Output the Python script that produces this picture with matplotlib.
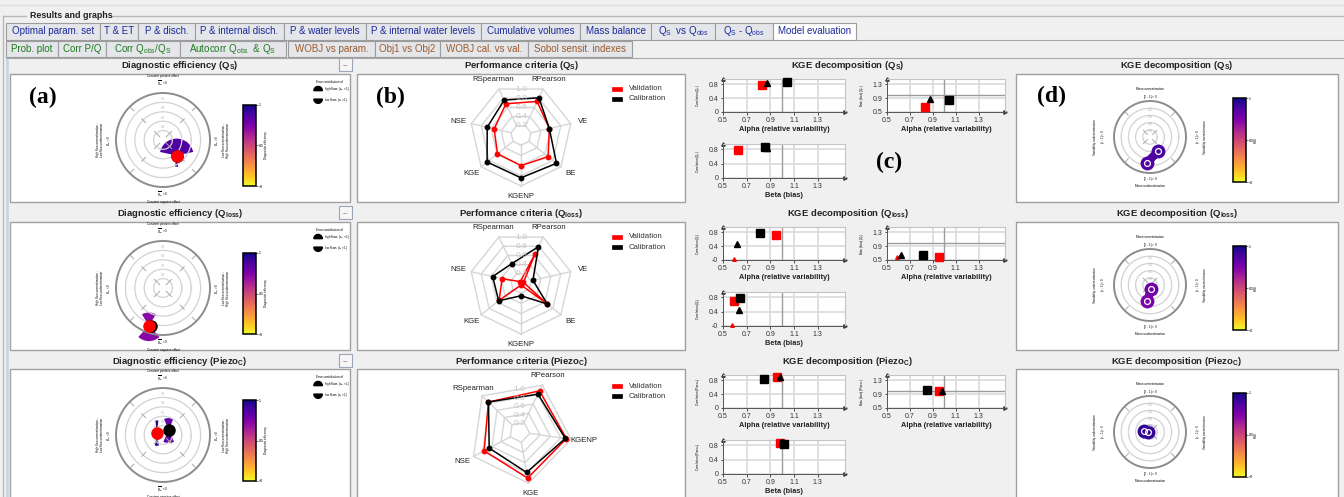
import numpy as np
import matplotlib
matplotlib.use('Agg')
import matplotlib.pyplot as plt
from matplotlib.patches import Rectangle, Wedge
from matplotlib.lines import Line2D
from matplotlib.colors import Normalize
from matplotlib import cm

# ------------------------------------------------------------------ data
TABS_ROW1 = ['Optimal param. set', 'T & ET', 'P & disch.', 'P & internal disch.',
             'P & water levels', 'P & internal water levels', 'Cumulative volumes',
             'Mass balance', r'Q$_\mathrm{S}$  vs Q$_\mathrm{obs}$',
             r'Q$_\mathrm{S}$ - Q$_\mathrm{obs}$', 'Model evaluation']
TABS_ROW2 = ['Prob. plot', 'Corr P/Q', r'Corr Q$_\mathrm{obs}$/Q$_\mathrm{S}$',
             r'Autocorr Q$_\mathrm{obs}$  & Q$_\mathrm{S}$',
             'WOBJ vs param.', 'Obj1 vs Obj2', 'WOBJ cal. vs val.', 'Sobol sensit. indexes']
VARIABLES = [r'Q$_{\mathbf{S}}$', r'Q$_{\mathbf{loss}}$', r'Piezo$_{\mathbf{C}}$']
VAR_SHORT = [r'Q$_\mathrm{S}$', r'Q$_\mathrm{l}$', r'Piezo$_\mathrm{C}$']

# radar (performance criteria); labels listed counter-clockwise
RADAR7_LABELS = ['KGENP', 'BE', 'VE', 'RPearson', 'RSpearman', 'NSE', 'KGE']
RADAR5_LABELS = ['RPearson', 'RSpearman', 'NSE', 'KGE', 'KGENP']
RADAR_VAL = [
    [0.60, 0.68, 0.57, 0.73, 0.68, 0.54, 0.59],
    [0.04, 0.65, 0.05, 0.64, 0.03, 0.38, 0.55],
    [0.88, 0.83, 0.77, 0.90, 0.91],
]
RADAR_CAL = [
    [0.84, 0.89, 0.57, 0.81, 0.76, 0.68, 0.85],
    [0.25, 0.66, 0.24, 0.79, 0.42, 0.57, 0.56],
    [0.81, 0.83, 0.66, 0.79, 0.89],
]
RADAR_GRID = [0.2, 0.4, 0.6, 0.8, 1.0]

# KGE decomposition components
KGE_VAL_ALPHA = [0.83, 0.95, 0.955]
KGE_VAL_BETA = [0.63, 0.59, 0.98]
KGE_VAL_R = [0.79, 0.71, 0.88]
KGE_CAL_ALPHA = [1.04, 0.81, 0.85]
KGE_CAL_BETA = [0.855, 0.645, 1.015]
KGE_CAL_R = [0.87, 0.78, 0.84]
KGE_TRI_ALPHA = [0.875, 0.62, 0.98]
KGE_TRI_BETA = [0.87, 0.635, 1.00]
KGE_TRI_R = [0.835, 0.45, 0.89]
KGE_TRIV_ALPHA = [np.nan, 0.59, np.nan]
KGE_TRIV_BETA = [np.nan, 0.575, np.nan]
KGE_TRIV_R = [np.nan, 0.02, np.nan]
KGE_XTICKS = [0.5, 0.7, 0.9, 1.1, 1.3]
KGE_R_TICKS = [0.0, 0.4, 0.8]
KGE_R_TICKLABELS = [['0', '0.4', '0.8'], ['-0', '0.4', '0.8'], ['0', '0.4', '0.8']]
KGE_B_TICKS = [0.5, 0.9, 1.3]

# diagnostic efficiency polar plot (positions in units of outer radius)
DIAG_VAL_X = [0.29, -0.30, -0.13]
DIAG_VAL_Y = [-0.33, -0.80, 0.04]
DIAG_CAL_X = [0.29, -0.25, 0.12]
DIAG_CAL_Y = [-0.33, -0.80, 0.10]
DIAG_VAL_EFF = [0.86, 0.72, 0.94]
DIAG_CAL_EFF = [0.86, 0.72, 0.82]
DIAG_VAL_HIGH = [(0.36, 78), (0.28, 32), (0.27, 7)]     # (radius, half-angle)
DIAG_VAL_LOW = [(0.24, 8), (0.33, 43), (0.27, 9)]
DIAG_CAL_HIGH = [(0.0, 0), (0.0, 0), (0.26, 22)]
DIAG_CAL_LOW = [(0.0, 0), (0.0, 0), (0.27, 25)]

# KGE polar plot (angle deg, radius in units of outer radius)
KGEP_VAL = [(-97, 0.72), (-100, 0.45), (175, 0.16)]
KGEP_CAL = [(-60, 0.46), (-75, 0.12), (170, 0.05)]
KGEP_VAL_KGE = [0.86, 0.75, 0.93]
KGEP_CAL_KGE = [0.88, 0.78, 0.93]

# ------------------------------------------------------------------ setup
W, H = 1344, 497
plt.rcParams['font.family'] = ['Liberation Sans', 'DejaVu Sans']
plt.rcParams['mathtext.fontset'] = 'custom'
plt.rcParams['mathtext.rm'] = 'Liberation Sans'
plt.rcParams['mathtext.it'] = 'Liberation Sans:italic'
plt.rcParams['mathtext.bf'] = 'Liberation Sans:bold'

fig = plt.figure(figsize=(W / 100, H / 100), dpi=100, facecolor='#f0f0f0')
CMAP = plt.get_cmap('plasma_r')
NORM = Normalize(0, 1)


def add_ax(x0, y0, x1, y1):
    ax = fig.add_axes([x0 / W, 1 - y1 / H, (x1 - x0) / W, (y1 - y0) / H])
    ax.patch.set_alpha(0)
    return ax


def unit_axes(x0, y0, x1, y1, cx, cy, R):
    ax = add_ax(x0, y0, x1, y1)
    ax.set_xlim((x0 - cx) / R, (x1 - cx) / R)
    ax.set_ylim((cy - y1) / R, (cy - y0) / R)
    ax.set_axis_off()
    return ax


def frect(x0, y0, x1, y1, fc, ec, lw=1.0, z=-1):
    fig.add_artist(Rectangle((x0 / W, 1 - y1 / H), (x1 - x0) / W, (y1 - y0) / H,
                             transform=fig.transFigure, facecolor=fc, edgecolor=ec,
                             linewidth=lw, zorder=z))


def fline(xs, ys, color, lw=1.0, z=-0.5):
    fig.add_artist(Line2D([x / W for x in xs], [1 - y / H for y in ys],
                          transform=fig.transFigure, color=color, lw=lw, zorder=z))


def ftext(x, y, s, **kw):
    fig.text(x / W, 1 - y / H, s, **kw)


# ------------------------------------------------------------------ header
fline([0, 1344], [5, 5], '#dcdcdc')
fline([3, 26], [16, 16], '#b8b8b8')
fline([112, 1344], [16, 16], '#b8b8b8')
fline([3, 3], [16, 497], '#b8b8b8')
ftext(30, 15.5, 'Results and graphs', fontsize=6.4, fontweight='bold', va='center',
      color='#202020')

TAB1_EDGES = [6, 100, 138, 195, 284, 366, 481, 580, 651, 715, 773, 856]
TAB2_EDGES = [6, 58, 106, 180, 286, 288, 375, 440, 528, 632]
fline([856, 1344], [40, 40], '#a8a8a8', 0.8)
fline([6, 1344], [58, 58], '#a8a8a8', 0.8)
for i, lab in enumerate(TABS_ROW1):
    x0, x1 = TAB1_EDGES[i], TAB1_EDGES[i + 1]
    sel = (i == len(TABS_ROW1) - 1)
    frect(x0, 23, x1, 40, 'white' if sel else '#e4e6ea', '#9c9c9c', 0.8)
    ftext((x0 + x1) / 2, 31.5, lab, fontsize=7.0, ha='center', va='center',
          color='#1b2a9c')
row2_edges = [(TAB2_EDGES[k], TAB2_EDGES[k + 1]) for k in range(4)] + \
             [(TAB2_EDGES[k], TAB2_EDGES[k + 1]) for k in range(5, 9)]
for i, lab in enumerate(TABS_ROW2):
    x0, x1 = row2_edges[i]
    frect(x0, 41, x1, 57, '#e4e6ea', '#9c9c9c', 0.8)
    ftext((x0 + x1) / 2, 49, lab, fontsize=7.0, ha='center', va='center',
          color='#1e7a1e' if i < 4 else '#9c5a2c')

# ------------------------------------------------------------------ layout
ROW_TOP = [74, 222, 369]
ROW_BOT = [202, 350, 505]
TITLE_Y = [65, 213, 361]
C1 = (10, 350)
C2 = (357, 685)
C4 = (1016, 1338)
TINY = 2.2

fline([7, 7], [60, 497], '#c8d4e4', 2.0)
for r in range(3):
    t, b = ROW_TOP[r], ROW_BOT[r]
    for c in (C1, C2, C4):
        frect(c[0], t, c[1], b, 'white', '#a0a0a0', 1.0)
    ftext(180, TITLE_Y[r], 'Diagnostic efficiency (' + VARIABLES[r] + ')',
          fontsize=6.8, fontweight='bold', ha='center', va='center', color='#222')
    ftext(521, TITLE_Y[r], 'Performance criteria (' + VARIABLES[r] + ')',
          fontsize=6.8, fontweight='bold', ha='center', va='center', color='#222')
    ftext(848, TITLE_Y[r], 'KGE decomposition (' + VARIABLES[r] + ')',
          fontsize=6.8, fontweight='bold', ha='center', va='center', color='#222')
    ftext(1177, TITLE_Y[r], 'KGE decomposition (' + VARIABLES[r] + ')',
          fontsize=6.8, fontweight='bold', ha='center', va='center', color='#222')
    frect(339, TITLE_Y[r] - 7, 352, TITLE_Y[r] + 6, '#f6f6f6', '#9aa6b8', 0.8)
    ftext(345.5, TITLE_Y[r] - 1, '...', fontsize=5, ha='center', va='center', color='#333')

# panel letters
for s, x, y in [('(a)', 43, 97), ('(b)', 390, 97), ('(c)', 889, 162), ('(d)', 1051, 96)]:
    ftext(x, y, s, fontsize=17, fontweight='bold', family='Liberation Serif',
          ha='center', va='center', color='black')

th = np.linspace(0, 2 * np.pi, 361)


def colorbar_at(x0, y0, x1, y1, label):
    cax = add_ax(x0, y0, x1, y1)
    cb = fig.colorbar(cm.ScalarMappable(norm=NORM, cmap=CMAP), cax=cax)
    cb.set_ticks([0, 0.5, 1])
    cb.set_ticklabels(['<0', '0.5', '1'])
    cax.tick_params(labelsize=TINY + 0.4, length=1.2, width=0.4, pad=0.6)
    cb.outline.set_linewidth(1.1)
    cb.set_label(label, fontsize=TINY, labelpad=0.5)


# ------------------------------------------------------------------ (a) diagnostic polar
for r in range(3):
    t, b = ROW_TOP[r], ROW_BOT[r]
    cx, cy, R = 163, t + 66, 47
    ax = unit_axes(C1[0] + 1, t + 1, C1[1] - 1, min(b, 497) - 1, cx, cy, R)
    for rr in [0.2, 0.4, 0.6, 0.8]:
        ax.plot(rr * np.cos(th), rr * np.sin(th), color='#d2d2d2', lw=0.9)
    ax.plot(np.cos(th), np.sin(th), color='#8c8c8c', lw=1.4)
    for a in np.deg2rad([45, 135, 225, 315]):
        for r0, r1 in [(0.1, 0.26), (0.52, 0.64), (0.88, 0.98)]:
            ax.plot([r0 * np.cos(a), r1 * np.cos(a)], [r0 * np.sin(a), r1 * np.sin(a)],
                    color='#a8a8a8', lw=0.7)
    for rr, lab in zip([0.2, 0.4, 0.6, 0.8], ['0.8', '0.6', '0.4', '0.2']):
        ax.text(0, rr + 0.03, lab, fontsize=TINY, color='#b0b0b0', ha='center', va='bottom')
    # calibration
    ccol = CMAP(NORM(DIAG_CAL_EFF[r]))
    x, y = DIAG_CAL_X[r], DIAG_CAL_Y[r]
    hr, hw = DIAG_CAL_HIGH[r]
    lr, lw_ = DIAG_CAL_LOW[r]
    if hr > 0:
        ax.add_patch(Wedge((x, y), hr, 90 - hw, 90 + hw, facecolor=ccol, edgecolor='none'))
    if lr > 0:
        ax.add_patch(Wedge((x, y), lr, 270 - lw_, 270 + lw_, facecolor=ccol, edgecolor='none'))
    ax.plot(x, y, 'o', color='black', ms=9, mec='none')
    # validation
    vcol = CMAP(NORM(DIAG_VAL_EFF[r]))
    x, y = DIAG_VAL_X[r], DIAG_VAL_Y[r]
    hr, hw = DIAG_VAL_HIGH[r]
    lr, lw_ = DIAG_VAL_LOW[r]
    ax.add_patch(Wedge((x, y), hr, 90 - hw, 90 + hw, facecolor=vcol, edgecolor='none'))
    ax.add_patch(Wedge((x, y), lr, 270 - lw_, 270 + lw_, facecolor=vcol, edgecolor='none'))
    ax.plot(x, y, 'o', color='red', ms=9, mec='none')
    # annotation texts
    ax.text(0, 1.26, 'Constant positive offset\n' + r'$\overline{B}_{rel}$ > 0', fontsize=TINY,
            ha='center', va='center', linespacing=1.3)
    ax.text(0, -1.22, r'$\overline{B}_{rel}$ < 0' + '\nConstant negative offset', fontsize=TINY,
            ha='center', va='center', linespacing=1.2)
    ax.text(-1.25, 0, 'High flow overestimation -\nLow flow underestimation\n'
            + r'$B_{dir}$ < 0', fontsize=TINY, rotation=90, ha='center', va='center')
    ax.text(1.25, 0, r'$B_{dir}$ > 0' + '\nLow flow overestimation -\nHigh flow underestimation',
            fontsize=TINY, rotation=90, ha='center', va='center')
    ax.text(3.25, 1.23, 'Error contribution of', fontsize=TINY, ha='left', va='center')
    ax.add_patch(Wedge((3.3, 1.05), 0.09, 0, 180, color='black'))
    ax.text(3.43, 1.08, r'high flows ($\epsilon_{hf}$ < 1)', fontsize=TINY, ha='left', va='center')
    ax.add_patch(Wedge((3.3, 0.87), 0.09, 180, 360, color='black'))
    ax.text(3.43, 0.86, r'low flows ($\epsilon_{lf}$ > 1)', fontsize=TINY, ha='left', va='center')
    colorbar_at(243, t + 31, 256, t + 112, 'Diagnostic efficiency')

# ------------------------------------------------------------------ (b) radar
for r in range(3):
    t, b = ROW_TOP[r], ROW_BOT[r]
    labels = RADAR7_LABELS if r < 2 else RADAR5_LABELS
    n = len(labels)
    start = 270 if r < 2 else 64
    cx, cy, R = (521, t + 61, 51) if r < 2 else (519.5, t + 63, 52)
    ax = unit_axes(C2[0] + 1, t + 1, C2[1] - 1, min(b, 497) - 1, cx, cy, R)
    ang = np.deg2rad(start + 360.0 / n * np.arange(n))
    for g in RADAR_GRID:
        ax.plot(np.r_[g * np.cos(ang), g * np.cos(ang[0])],
                np.r_[g * np.sin(ang), g * np.sin(ang[0])], color='#d6d6d6', lw=1.0)
    for a in ang:
        ax.plot([0.2 * np.cos(a), np.cos(a)], [0.2 * np.sin(a), np.sin(a)],
                color='#d6d6d6', lw=1.0)
    for g in RADAR_GRID:
        ax.text(0, g * np.cos(np.pi / n), f'{g:.1f}', fontsize=6, color='#c4c4c4',
                ha='center', va='center')
    for vals, col in [(RADAR_VAL[r], 'red'), (RADAR_CAL[r], 'black')]:
        v = np.asarray(vals)
        xs, ys = v * np.cos(ang), v * np.sin(ang)
        ax.plot(np.r_[xs, xs[0]], np.r_[ys, ys[0]], color=col, lw=1.1)
        ax.plot(xs, ys, 'o', color=col, ms=3.2)
    for a, lab in zip(ang, labels):
        ax.text(1.25 * np.cos(a), 1.2 * np.sin(a), lab, fontsize=5.6, ha='center',
                va='center', color='#222')
    ly = t + (15 if r < 2 else 17)
    for k, (lab, col) in enumerate([('Validation', 'red'), ('Calibration', 'black')]):
        frect(612, ly + 10 * k - 2, 622, ly + 10 * k + 2, col, col, 0.5, z=1)
        ftext(629, ly + 10 * k, lab, fontsize=5.6, va='center', color='#333')

# ------------------------------------------------------------------ (c) KGE decomposition


def kge_axis(x0, y0, x1, y1, r, xkind, ykind):
    ax = add_ax(x0, y0, x1, y1)
    ax.patch.set_alpha(1)
    ax.set_facecolor('white')
    ax.set_xlim(0.5, 1.53)
    if ykind == 'r':
        ax.set_ylim(0, 0.95)
        ax.set_yticks(KGE_R_TICKS)
        ax.set_yticklabels(KGE_R_TICKLABELS[r])
    else:
        ax.set_ylim(0.5, 1.45)
        ax.set_yticks(KGE_B_TICKS)
        ax.set_yticklabels([f'{v:.1f}' for v in KGE_B_TICKS])
        ax.axhline(1.0, color='#9c9c9c', lw=1.0, zorder=1)
    ax.set_xticks(KGE_XTICKS)
    ax.set_xticklabels([f'{v:.1f}' for v in KGE_XTICKS])
    ax.grid(True, color='#dadada', lw=1.2, zorder=0)
    ax.set_axisbelow(True)
    ax.axvline(1.0, color='#9c9c9c', lw=1.0, zorder=1)
    for s in ('top', 'right'):
        ax.spines[s].set_color('#c4c4c4')
        ax.spines[s].set_linewidth(0.8)
    for s in ('bottom', 'left'):
        ax.spines[s].set_color('#555555')
        ax.spines[s].set_linewidth(0.7)
    ax.tick_params(labelsize=5, length=1.8, width=0.6, pad=1.5, colors='#333')
    ax.plot(1.0, 0, '>', transform=ax.transAxes, clip_on=False, ms=2.4, color='#333')
    ax.plot(0, 1.0, '^', transform=ax.transAxes, clip_on=False, ms=2.4, color='#333')
    xd = {'a': (KGE_VAL_ALPHA, KGE_CAL_ALPHA, KGE_TRI_ALPHA, KGE_TRIV_ALPHA),
          'b': (KGE_VAL_BETA, KGE_CAL_BETA, KGE_TRI_BETA, KGE_TRIV_BETA)}[xkind]
    yd = {'r': (KGE_VAL_R, KGE_CAL_R, KGE_TRI_R, KGE_TRIV_R),
          'b': (KGE_VAL_BETA, KGE_CAL_BETA, KGE_TRI_BETA, KGE_TRIV_BETA)}[ykind]
    ax.plot(xd[0][r], yd[0][r], 's', color='red', ms=5.2, zorder=3, clip_on=False)
    ax.plot(xd[3][r], yd[3][r], '^', color='red', ms=2.6, zorder=3, clip_on=False)
    ax.plot(xd[2][r], yd[2][r], '^', color='black', ms=4.2, zorder=4, clip_on=False)
    ax.plot(xd[1][r], yd[1][r], 's', color='black', ms=5.2, zorder=5, clip_on=False)
    ax.set_xlabel('Alpha (relative variability)' if xkind == 'a' else 'Beta (bias)',
                  fontsize=5.3, fontweight='bold', labelpad=1.5, color='#222')
    ylab = 'Correlation (' + VAR_SHORT[r] + ')' if ykind == 'r' else 'Beta (bias) (' + VAR_SHORT[r] + ')'
    ax.set_ylabel(ylab, fontsize=TINY, labelpad=5)
    return ax


for r in range(3):
    ty = TITLE_Y[r]
    kge_axis(723, ty + 14, 845, ty + 47, r, 'a', 'r')
    kge_axis(887, ty + 14, 1005, ty + 47, r, 'a', 'b')
    kge_axis(723, ty + 79, 845, ty + 113, r, 'b', 'r')

# ------------------------------------------------------------------ (d) KGE polar
for r in range(3):
    t, b = ROW_TOP[r], ROW_BOT[r]
    cx, cy, R = 1150, t + 63, 36
    ax = unit_axes(C4[0] + 1, t + 1, C4[1] - 1, min(b, 497) - 1, cx, cy, R)
    for rr in [0.2, 0.4, 0.6, 0.8]:
        ax.plot(rr * np.cos(th), rr * np.sin(th), color='#d2d2d2', lw=0.9)
    ax.plot(np.cos(th), np.sin(th), color='#8c8c8c', lw=1.4)
    for a in np.deg2rad([45, 135, 225, 315]):
        for r0, r1 in [(0.1, 0.26), (0.85, 0.98)]:
            ax.plot([r0 * np.cos(a), r1 * np.cos(a)], [r0 * np.sin(a), r1 * np.sin(a)],
                    color='#a8a8a8', lw=0.7)
    for rr, lab in zip([0.8, 0.6, 0.4, 0.2], ['0.2', '0.4', '0.6', '0.8']):
        ax.text(0, rr - 0.04, lab, fontsize=TINY + 0.5, color='#b8b8b8', ha='center', va='center')
    pv = KGEP_VAL[r]
    pc = KGEP_CAL[r]
    xv, yv = pv[1] * np.cos(np.deg2rad(pv[0])), pv[1] * np.sin(np.deg2rad(pv[0]))
    xc, yc = pc[1] * np.cos(np.deg2rad(pc[0])), pc[1] * np.sin(np.deg2rad(pc[0]))
    colv = CMAP(NORM(KGEP_VAL_KGE[r]))
    colc = CMAP(NORM(KGEP_CAL_KGE[r]))
    ax.plot([xv, xc], [yv, yc], color=colv, lw=6, solid_capstyle='round')
    ax.plot(xv, yv, 'o', color=colv, ms=10, mec='none')
    ax.plot(xc, yc, 'o', color=colc, ms=10, mec='none')
    ax.plot(xv, yv, 'o', mfc='none', mec='white', ms=4.2, mew=0.9)
    ax.plot(xc, yc, 'o', mfc='none', mec='white', ms=4.2, mew=0.9)
    ax.text(0, 1.2, 'Mean overestimation\n' + r'($\beta$ - 1) > 0', fontsize=TINY,
            ha='center', va='center', linespacing=1.4)
    ax.text(0, -1.24, r'($\beta$ - 1) < 0' + '\nMean underestimation', fontsize=TINY,
            ha='center', va='center', linespacing=1.4)
    ax.text(-1.4, 0, 'Variability underestimation\n' + r'($\alpha$ - 1) < 0', fontsize=TINY,
            rotation=90, ha='center', va='center', linespacing=1.4)
    ax.text(1.4, 0, r'($\alpha$ - 1) > 0' + '\nVariability overestimation', fontsize=TINY,
            rotation=90, ha='center', va='center', linespacing=1.4)
    colorbar_at(1233, t + 24, 1246, t + 108, 'KGE')

fig.savefig('out.png', dpi=100, facecolor=fig.get_facecolor())
